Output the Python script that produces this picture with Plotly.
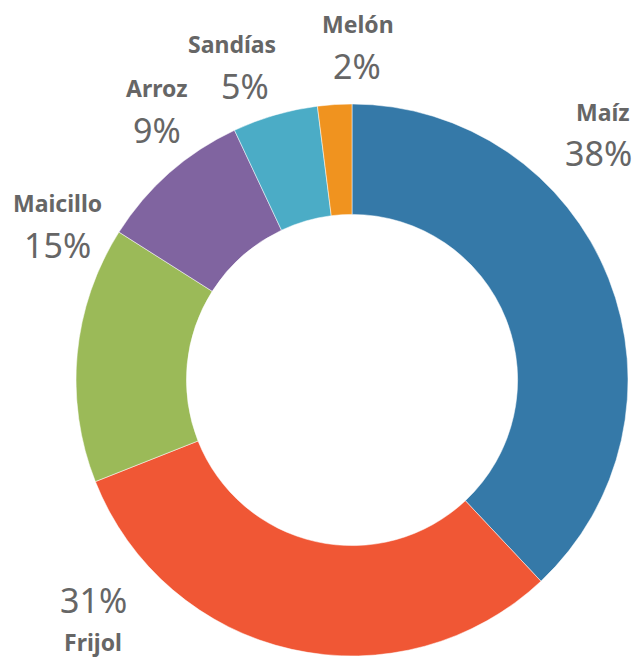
import plotly.graph_objects as go

categories = ["Maíz", "Frijol", "Maicillo", "Arroz", "Sandías", "Melón"]
values = [38, 31, 15, 9, 5, 2]
colors = ["#3579A8", "#F05735", "#9BBA58", "#8064A0", "#4BACC6", "#F0931F"]
# label centres in screen pixels: (name x, name y, pct x, pct y)
label_px = [(603, 112, 598, 153), (93, 642, 93, 600), (57, 203, 57, 245),
            (157, 88, 157, 130), (232, 44, 245, 86), (358, 24, 357, 66)]

W, H, OFF = 644, 658, 8  # page body margin offsets the figure by 8px


def px2paper(x, y):
    return (x - OFF) / W, 1 - (y - OFF) / H


cx, cy, r = 352, 380, 276
x0, y0 = px2paper(cx - r, cy + r)
x1, y1 = px2paper(cx + r, cy - r)

fig = go.Figure(go.Pie(
    labels=categories, values=values, hole=0.6, sort=False,
    direction="clockwise", rotation=0,
    marker=dict(colors=colors, line=dict(color="white", width=0.5)),
    textinfo="none", hoverinfo="label+percent",
    domain=dict(x=[x0, x1], y=[y0, y1]),
    showlegend=False,
))

total = sum(values)
for cat, v, (nx, ny, px, py) in zip(categories, values, label_px):
    ax, ay = px2paper(nx, ny)
    fig.add_annotation(x=ax, y=ay, xref="paper", yref="paper", text=cat,
                       showarrow=False, xanchor="center", yanchor="middle",
                       font=dict(family="Noto Sans", color="#666666", size=23, weight="bold"))
    bx, by = px2paper(px, py)
    fig.add_annotation(x=bx, y=by, xref="paper", yref="paper", text=f"{round(100*v/total)}%",
                       showarrow=False, xanchor="center", yanchor="middle",
                       font=dict(family="Noto Sans", color="#666666", size=34))

fig.update_layout(width=W, height=H, margin=dict(l=0, r=0, t=0, b=0),
                  paper_bgcolor="white", plot_bgcolor="white")
fig.write_html("out.html")
